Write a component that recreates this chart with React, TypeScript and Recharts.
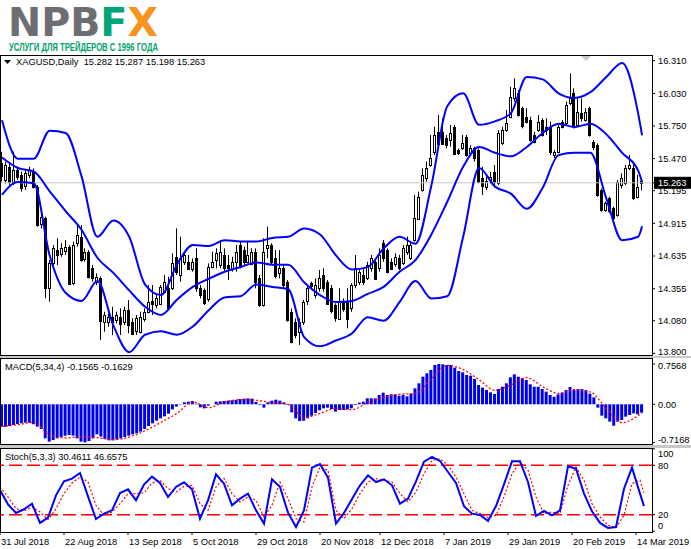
import { ComposedChart, Bar, Line, XAxis, YAxis, ReferenceLine } from 'recharts';

// XAGUSD daily, 31 Jul 2018 .. 15 Mar 2019 (162 bars)
const opens = [
  15.430, 15.287, 15.401, 15.273, 15.373, 15.330, 15.230, 15.330, 15.358, 15.230,
  14.915, 14.958, 14.358, 14.572, 14.686, 14.658, 14.678, 14.715, 14.401, 14.744,
  14.801, 14.615, 14.672, 14.529, 14.415, 14.443, 14.072, 14.072, 14.115, 14.086,
  14.115, 14.072, 14.172, 14.072, 13.986, 13.986, 14.100, 14.157, 14.249, 14.215,
  14.229, 14.329, 14.358, 14.358, 14.629, 14.472, 14.586, 14.586, 14.529, 14.615,
  14.358, 14.343, 14.272, 14.544, 14.601, 14.558, 14.644, 14.558, 14.529, 14.586,
  14.729, 14.686, 14.586, 14.572, 14.672, 14.443, 14.215, 14.701, 14.729, 14.615,
  14.486, 14.529, 14.415, 14.157, 14.072, 13.986, 14.072, 14.243, 14.401, 14.300,
  14.358, 14.472, 14.415, 14.358, 14.215, 14.100, 14.243, 14.243, 14.186, 14.386,
  14.415, 14.472, 14.443, 14.529, 14.586, 14.529, 14.744, 14.686, 14.586, 14.572,
  14.615, 14.572, 14.672, 14.615, 14.772, 14.958, 15.201, 15.301, 15.416, 15.530,
  15.701, 15.701, 15.644, 15.630, 15.744, 15.544, 15.558, 15.659, 15.516, 15.558,
  15.544, 15.301, 15.230, 15.287, 15.358, 15.258, 15.601, 15.716, 15.830, 15.987,
  16.030, 15.902, 15.830, 15.802, 15.673, 15.716, 15.802, 15.744, 15.744, 15.501,
  15.530, 15.787, 15.773, 15.944, 16.030, 15.759, 15.859, 15.802, 15.902, 15.616,
  15.587, 15.201, 15.030, 15.130, 15.044, 14.987, 15.244, 15.258, 15.387, 15.387,
  15.144, 15.282,
];
const highs = [
  15.530, 15.444, 15.430, 15.530, 15.401, 15.358, 15.373, 15.401, 15.387, 15.244,
  15.015, 14.972, 14.601, 14.729, 14.787, 14.744, 14.772, 14.729, 14.758, 14.901,
  14.901, 14.701, 14.686, 14.558, 14.486, 14.458, 14.157, 14.143, 14.200, 14.157,
  14.186, 14.200, 14.258, 14.100, 14.129, 14.157, 14.186, 14.386, 14.386, 14.300,
  14.386, 14.472, 14.458, 14.658, 14.872, 14.801, 14.672, 14.644, 14.615, 14.701,
  14.386, 14.358, 14.572, 14.672, 14.701, 14.772, 14.701, 14.644, 14.629, 14.729,
  14.758, 14.715, 14.758, 14.701, 14.701, 14.472, 14.787, 14.887, 14.744, 14.686,
  14.686, 14.558, 14.429, 14.186, 14.100, 14.100, 14.258, 14.386, 14.415, 14.443,
  14.515, 14.529, 14.429, 14.386, 14.229, 14.358, 14.272, 14.358, 14.401, 14.644,
  14.529, 14.529, 14.586, 14.644, 14.615, 14.701, 14.772, 14.701, 14.615, 14.658,
  14.644, 14.729, 14.801, 14.758, 15.158, 15.187, 15.387, 15.444, 15.673, 15.744,
  15.844, 15.816, 15.673, 15.759, 15.759, 15.558, 15.673, 15.673, 15.587, 15.573,
  15.558, 15.401, 15.315, 15.358, 15.416, 15.716, 15.744, 15.887, 16.087, 16.159,
  16.059, 15.916, 15.902, 15.830, 15.701, 15.844, 15.816, 15.816, 15.787, 15.544,
  15.759, 15.802, 15.959, 16.202, 16.073, 15.987, 15.987, 15.902, 15.916, 15.630,
  15.601, 15.215, 15.101, 15.144, 15.058, 15.287, 15.344, 15.416, 15.501, 15.444,
  15.330, 15.287,
];
const lows = [
  15.273, 15.258, 15.244, 15.244, 15.287, 15.187, 15.201, 15.301, 15.215, 14.887,
  14.872, 14.272, 14.243, 14.544, 14.558, 14.629, 14.644, 14.386, 14.386, 14.715,
  14.586, 14.586, 14.443, 14.415, 14.386, 13.915, 13.986, 14.029, 13.957, 14.057,
  13.957, 14.043, 13.972, 13.957, 13.957, 13.972, 14.072, 14.143, 14.129, 14.186,
  14.215, 14.315, 14.172, 14.343, 14.472, 14.415, 14.558, 14.515, 14.501, 14.329,
  14.272, 14.215, 14.243, 14.529, 14.529, 14.529, 14.501, 14.429, 14.501, 14.501,
  14.529, 14.558, 14.572, 14.558, 14.358, 14.200, 14.200, 14.615, 14.558, 14.443,
  14.443, 14.358, 14.072, 13.886, 13.929, 13.872, 14.043, 14.215, 14.343, 14.272,
  14.329, 14.329, 14.215, 14.143, 14.072, 14.086, 14.157, 14.015, 14.157, 14.358,
  14.386, 14.386, 14.429, 14.501, 14.429, 14.501, 14.586, 14.486, 14.515, 14.544,
  14.515, 14.558, 14.644, 14.601, 14.758, 14.944, 15.187, 15.273, 15.401, 15.501,
  15.558, 15.587, 15.558, 15.573, 15.501, 15.501, 15.544, 15.487, 15.501, 15.444,
  15.258, 15.158, 15.201, 15.258, 15.244, 15.244, 15.587, 15.701, 15.816, 15.959,
  15.830, 15.730, 15.773, 15.616, 15.601, 15.701, 15.659, 15.673, 15.501, 15.473,
  15.516, 15.730, 15.759, 15.930, 15.730, 15.744, 15.787, 15.787, 15.659, 15.544,
  15.144, 15.015, 15.015, 15.001, 14.944, 14.972, 15.215, 15.244, 15.373, 15.115,
  15.130, 15.198,
];
const closes = [
  15.315, 15.416, 15.273, 15.373, 15.315, 15.215, 15.344, 15.373, 15.230, 14.901,
  14.972, 14.358, 14.572, 14.701, 14.644, 14.707, 14.715, 14.401, 14.729, 14.815,
  14.601, 14.672, 14.458, 14.443, 14.458, 14.072, 14.129, 14.115, 14.072, 14.129,
  14.057, 14.172, 14.043, 13.972, 14.100, 14.115, 14.157, 14.243, 14.220, 14.272,
  14.372, 14.415, 14.186, 14.572, 14.501, 14.615, 14.644, 14.529, 14.586, 14.358,
  14.300, 14.229, 14.544, 14.586, 14.658, 14.672, 14.529, 14.529, 14.586, 14.672,
  14.544, 14.586, 14.644, 14.672, 14.415, 14.215, 14.672, 14.729, 14.586, 14.458,
  14.529, 14.386, 14.086, 13.900, 13.957, 14.072, 14.243, 14.358, 14.372, 14.386,
  14.443, 14.358, 14.229, 14.157, 14.100, 14.243, 14.186, 14.100, 14.386, 14.529,
  14.501, 14.415, 14.558, 14.615, 14.443, 14.644, 14.615, 14.501, 14.529, 14.629,
  14.529, 14.701, 14.729, 14.729, 14.958, 15.144, 15.330, 15.387, 15.473, 15.673,
  15.601, 15.601, 15.587, 15.687, 15.516, 15.516, 15.601, 15.501, 15.558, 15.473,
  15.273, 15.230, 15.278, 15.315, 15.273, 15.687, 15.716, 15.773, 16.002, 16.073,
  15.844, 15.744, 15.787, 15.630, 15.616, 15.787, 15.673, 15.716, 15.530, 15.530,
  15.744, 15.744, 15.930, 15.987, 15.744, 15.873, 15.816, 15.873, 15.673, 15.573,
  15.158, 15.030, 15.087, 15.015, 14.958, 15.273, 15.301, 15.387, 15.416, 15.130,
  15.230, 15.263,
];

// Bollinger bands read every 4th bar (last entry = last bar)
const bandUpper = [
  15.80, 15.47, 15.47, 15.71, 15.69, 15.32, 14.80, 14.94, 14.80, 14.39, 14.30,
  14.56, 14.73, 14.72, 14.77, 14.76, 14.76, 14.79, 14.80, 14.87, 14.82, 14.64,
  14.52, 14.54, 14.70, 14.80, 14.74, 15.24, 15.92, 16.03, 15.76, 15.79, 15.86,
  16.17, 16.15, 16.03, 15.99, 16.04, 16.17, 16.29, 15.86, 15.67,
];
const bandMid = [
  15.48, 15.39, 15.36, 15.19, 15.02, 14.86, 14.62, 14.49, 14.34, 14.20, 14.13,
  14.26, 14.37, 14.44, 14.50, 14.54, 14.58, 14.56, 14.56, 14.41, 14.30, 14.24,
  14.25, 14.31, 14.37, 14.50, 14.60, 14.82, 15.10, 15.40, 15.57, 15.52, 15.49,
  15.57, 15.69, 15.77, 15.74, 15.77, 15.68, 15.52, 15.37, 15.27,
];
const bandLower = [
  15.16, 15.27, 15.26, 14.64, 14.32, 14.25, 14.42, 14.04, 13.81, 13.96, 13.99,
  13.96, 14.03, 14.17, 14.28, 14.29, 14.39, 14.37, 14.35, 13.94, 13.86, 13.91,
  13.97, 14.11, 14.08, 14.24, 14.42, 14.27, 14.29, 14.80, 15.39, 15.23, 15.17,
  15.04, 15.22, 15.50, 15.52, 15.52, 15.13, 14.77, 14.80, 14.89,
];

// MACD(5,34,4) histogram, one per bar
const macdHist = [
  -0.420, -0.420, -0.408, -0.389, -0.370, -0.357, -0.345, -0.345, -0.376, -0.420,
  -0.464, -0.640, -0.702, -0.671, -0.640, -0.615, -0.589, -0.577, -0.589, -0.640,
  -0.702, -0.715, -0.690, -0.640, -0.565, -0.608, -0.652, -0.677, -0.677, -0.659,
  -0.640, -0.615, -0.589, -0.565, -0.546, -0.514, -0.464, -0.408, -0.357, -0.307,
  -0.264, -0.226, -0.176, -0.095, -0.044, -0.007, 0.037, 0.049, 0.062, 0.012,
  -0.057, -0.076, -0.026, -0.001, 0.049, 0.056, 0.062, 0.068, 0.075, 0.081,
  0.100, 0.106, 0.112, 0.106, 0.043, -0.013, -0.063, 0.037, 0.068, 0.087,
  0.068, 0.037, -0.013, -0.151, -0.264, -0.314, -0.308, -0.264, -0.214, -0.164,
  -0.113, -0.076, -0.063, -0.088, -0.138, -0.107, -0.107, -0.095, -0.076, -0.013,
  0.031, 0.049, 0.112, 0.112, 0.112, 0.175, 0.219, 0.175, 0.187, 0.187,
  0.162, 0.175, 0.150, 0.200, 0.300, 0.394, 0.519, 0.582, 0.645, 0.739,
  0.757, 0.751, 0.739, 0.739, 0.689, 0.626, 0.601, 0.551, 0.538, 0.476,
  0.363, 0.313, 0.269, 0.225, 0.194, 0.288, 0.331, 0.394, 0.507, 0.563,
  0.519, 0.489, 0.457, 0.375, 0.331, 0.331, 0.288, 0.238, 0.175, 0.143,
  0.187, 0.219, 0.269, 0.325, 0.275, 0.288, 0.288, 0.269, 0.200, 0.131,
  -0.063, -0.214, -0.264, -0.326, -0.402, -0.326, -0.295, -0.232, -0.201, -0.170,
  -0.189, -0.1565,
];
// MACD signal, read every 4th bar
const macdSignal = [
  -0.414, -0.383, -0.339, -0.577, -0.633, -0.608, -0.627, -0.665, -0.615, -0.496,
  -0.339, -0.170, 0.043, -0.063, 0.043, 0.087, 0.075, 0.031, -0.001, -0.251,
  -0.170, -0.076, -0.101, 0.031, 0.131, 0.187, 0.206, 0.476, 0.732, 0.651,
  0.463, 0.263, 0.363, 0.501, 0.331, 0.206, 0.275, 0.231, -0.076, -0.345,
  -0.214, -0.1629,
];

// Stoch(5,3,3), read every 2nd bar
const stochK = [
  49.6, 32.6, 22.1, 26.6, 33.4, 10.0, 16.4, 43.5, 60.5, 63.8,
  70.6, 42.3, 14.8, 21.3, 25.3, 46.4, 50.8, 37.5, 56.5, 66.2,
  58.5, 41.5, 53.7, 59.3, 50.8, 15.2, 37.5, 69.0, 57.7, 31.4,
  39.5, 45.6, 25.3, 9.2, 63.0, 53.7, 22.5, 5.1, 25.3, 77.1,
  81.6, 65.0, 9.2, 22.1, 39.1, 55.7, 67.8, 59.7, 63.0, 55.7,
  33.4, 39.5, 60.5, 84.4, 90.1, 85.2, 71.9, 58.5, 30.2, 21.3,
  19.7, 12.4, 30.6, 56.9, 84.8, 84.8, 59.7, 18.5, 24.5, 19.3,
  25.3, 78.7, 75.9, 45.6, 24.1, 10.0, 3.9, 5.1, 51.6, 77.1,
  45.6, 30.4611,
];
const stochD = [
  53.7, 41.5, 27.4, 24.5, 29.4, 23.3, 14.0, 27.4, 45.6, 58.5,
  65.8, 59.7, 31.4, 19.3, 23.3, 33.4, 45.6, 45.6, 46.4, 58.5,
  61.8, 51.6, 47.6, 54.5, 55.7, 33.4, 25.3, 53.7, 63.8, 45.6,
  35.5, 41.5, 37.5, 17.3, 31.4, 59.7, 39.5, 15.2, 11.2, 53.7,
  77.9, 73.9, 25.3, 15.2, 27.4, 45.6, 59.7, 63.8, 61.8, 59.7,
  45.6, 35.5, 47.6, 69.8, 86.0, 88.0, 80.0, 65.8, 45.6, 25.3,
  21.3, 16.4, 19.3, 41.5, 69.8, 84.0, 73.9, 41.5, 21.3, 23.3,
  21.3, 55.7, 77.9, 61.8, 33.4, 17.3, 7.1, 4.3, 19.3, 57.7,
  62.0, 46.6575,
];

const dateLabels = [
  '31 Jul 2018', '22 Aug 2018', '13 Sep 2018', '5 Oct 2018', '29 Oct 2018', '20 Nov 2018',
  '12 Dec 2018', '7 Jan 2019', '29 Jan 2019', '20 Feb 2019', '14 Mar 2019',
];
const dateTickBars = [0, 16, 32, 48, 64, 80, 95, 111, 127, 143, 159];
const priceTicks = [16.31, 16.03, 15.75, 15.47, 15.195, 14.915, 14.635, 14.355, 14.08, 13.8];
const macdTicks = [0.7568, 0, -0.7168];
const stochTicks = [100, 80, 20, 0];

const FONT = "'Liberation Sans', Arial, sans-serif";
const FS = 9.3;
const BLUE = '#0000ff';
const RED = '#ff0000';

const NBARS = opens.length;
const LAST = NBARS - 1;
const lastClose = closes[LAST];

function spread(values: number[], step: number) {
  const out: (number | null)[] = new Array(NBARS).fill(null);
  values.forEach((v, k) => {
    out[Math.min(k * step, LAST)] = v;
  });
  return out;
}

const upperS = spread(bandUpper, 4);
const midS = spread(bandMid, 4);
const lowerS = spread(bandLower, 4);
const signalS = spread(macdSignal, 4);
const kS = spread(stochK, 2);
const dS = spread(stochD, 2);

// two empty slots on the right, like the terminal's chart shift
const rows = Array.from({ length: NBARS + 2 }, (_, i) =>
  i < NBARS
    ? {
        i,
        o: opens[i],
        h: highs[i],
        l: lows[i],
        c: closes[i],
        range: [lows[i], highs[i]],
        upper: upperS[i],
        mid: midS[i],
        lower: lowerS[i],
        macd: macdHist[i],
        signal: signalS[i],
        k: kS[i],
        d: dS[i],
      }
    : { i }
);

function Candle(props: any) {
  const { x, y, width, height, payload } = props;
  if (!payload || payload.o == null) return null;
  const { o, h, l, c } = payload;
  const top = Math.min(y, y + height);
  const span = Math.abs(height);
  const toY = (p: number) => top + ((h - p) / (h - l || 1)) * span;
  const cx = Math.floor(x + width / 2) + 0.5;
  const bTop = Math.round(toY(Math.max(o, c))) + 0.5;
  const bH = Math.max(1, Math.round(toY(Math.min(o, c)) - toY(Math.max(o, c))));
  return (
    <g>
      <line x1={cx} x2={cx} y1={top} y2={top + span} stroke="#000" strokeWidth={1} />
      <rect x={cx - 1} y={bTop} width={2} height={bH} fill={c >= o ? '#fff' : '#000'} stroke="#000" strokeWidth={1} />
    </g>
  );
}

function PriceTick(props: any) {
  const { x, y, payload } = props;
  const v = payload.value;
  if (v === lastClose) {
    return (
      <g>
        <rect x={x - 4} y={y - 6} width={40} height={12} fill="#000" />
        <text x={x} y={y} dy={3.4} fill="#fff" fontSize={FS} fontFamily={FONT}>
          {v.toFixed(3)}
        </text>
      </g>
    );
  }
  const shift = v === 13.8 ? -1.5 : 0;
  return (
    <text x={x} y={y + shift} dy={3.4} fill="#000" fontSize={FS} fontFamily={FONT}>
      {v.toFixed(3)}
    </text>
  );
}

function MacdTick(props: any) {
  const { x, y, payload } = props;
  const v = payload.value;
  const shift = v > 0 ? 2 : v < 0 ? -3 : 0;
  return (
    <text x={x} y={y + shift} dy={3.4} fill="#000" fontSize={FS} fontFamily={FONT}>
      {v === 0 ? '0.00' : v.toFixed(4)}
    </text>
  );
}

function StochTick(props: any) {
  const { x, y, payload } = props;
  const v = payload.value;
  const shift = v === 100 ? 5 : v === 0 ? -6 : 0;
  return (
    <text x={x} y={y + shift} dy={3.4} fill="#000" fontSize={FS} fontFamily={FONT}>
      {v}
    </text>
  );
}

function DateTick(props: any) {
  const { x, y, payload } = props;
  const label = dateLabels[dateTickBars.indexOf(payload.value)];
  return (
    <g>
      <line x1={x} x2={x} y1={y} y2={y + 3} stroke="#000" />
      <text x={x + 1} y={y + 12.5} fill="#000" fontSize={FS} fontFamily={FONT}>
        {label}
      </text>
    </g>
  );
}

const panelBorder = (top: number, height: number) => ({
  position: 'absolute' as const,
  left: 0,
  top,
  width: 653,
  height,
  border: '1px solid #000',
  boxSizing: 'border-box' as const,
  pointerEvents: 'none' as const,
});

const textStyle = (left: number, top: number) => ({
  position: 'absolute' as const,
  left,
  top,
  fontFamily: FONT,
  fontSize: FS,
  color: '#000',
  whiteSpace: 'pre' as const,
  lineHeight: '11px',
});

export default function App() {
  const margin = { top: 0, right: 0, bottom: 0, left: 0 };
  return (
    <div style={{ position: 'absolute', left: 0, top: 0, width: 691, height: 549, background: '#fff', overflow: 'hidden' }}>
      <svg width={200} height={56} style={{ position: 'absolute', left: 0, top: 0 }}>
        <text x={8} y={35.5} fontFamily="'DejaVu Sans', sans-serif" fontWeight="bold" fontSize={39} textLength={150} lengthAdjust="spacingAndGlyphs">
          <tspan fill="#6d6e71">NPB</tspan>
          <tspan fill="#00a57a">F</tspan>
          <tspan fill="#f7941d">X</tspan>
        </text>
        <text x={9} y={51} fontFamily="'Liberation Sans Narrow', 'Liberation Sans', sans-serif" fontWeight="bold" fontSize={10} fill="#00a06e" textLength={149} lengthAdjust="spacingAndGlyphs">
          УСЛУГИ ДЛЯ ТРЕЙДЕРОВ С 1996 ГОДА
        </text>
      </svg>

      <div style={{ position: 'absolute', left: 0, top: 356, width: 691, height: 2, background: '#c8c8c8' }} />
      <div style={{ position: 'absolute', left: 0, top: 445, width: 691, height: 3, background: '#c8c8c8' }} />

      <div style={{ position: 'absolute', left: 0, top: 55 }}>
        <ComposedChart width={691} height={300} data={rows} margin={margin} style={{ overflow: 'visible' }}>
          <XAxis dataKey="i" type="category" hide />
          <YAxis
            orientation="right"
            width={39}
            domain={[13.786, 16.359]}
            allowDataOverflow
            ticks={[...priceTicks, lastClose]}
            interval={0}
            axisLine={false}
            tickLine={{ stroke: '#000' }}
            tickSize={3}
            tickMargin={3}
            tick={<PriceTick />}
          />
          <ReferenceLine y={lastClose} stroke="#c8c8c8" strokeWidth={1} />
          <Bar dataKey="range" barSize={3} shape={(p: any) => <Candle {...p} />} isAnimationActive={false} />
          <Line dataKey="upper" type="monotone" stroke={BLUE} strokeWidth={2} dot={false} activeDot={false} connectNulls isAnimationActive={false} />
          <Line dataKey="mid" type="monotone" stroke={BLUE} strokeWidth={2} dot={false} activeDot={false} connectNulls isAnimationActive={false} />
          <Line dataKey="lower" type="monotone" stroke={BLUE} strokeWidth={2} dot={false} activeDot={false} connectNulls isAnimationActive={false} />
        </ComposedChart>
      </div>

      <div style={{ position: 'absolute', left: 0, top: 358 }}>
        <ComposedChart width={691} height={86} data={rows} margin={margin}>
          <XAxis dataKey="i" type="category" hide />
          <YAxis
            orientation="right"
            width={39}
            domain={[-0.746, 0.87]}
            allowDataOverflow
            ticks={macdTicks}
            interval={0}
            axisLine={false}
            tickLine={{ stroke: '#000' }}
            tickSize={3}
            tickMargin={3}
            tick={<MacdTick />}
          />
          <Bar dataKey="macd" barSize={3} fill="#0000f0" isAnimationActive={false} />
          <Line dataKey="signal" type="monotone" stroke={RED} strokeWidth={1.3} strokeDasharray="2 2" dot={false} activeDot={false} connectNulls isAnimationActive={false} />
        </ComposedChart>
      </div>

      <div style={{ position: 'absolute', left: 0, top: 448 }}>
        <ComposedChart width={691} height={101} data={rows} margin={margin}>
          <XAxis
            dataKey="i"
            type="category"
            height={17}
            ticks={dateTickBars}
            interval={0}
            axisLine={false}
            tickLine={false}
            tickSize={0}
            tickMargin={0}
            tick={<DateTick />}
          />
          <YAxis
            orientation="right"
            width={39}
            domain={[-1, 101]}
            allowDataOverflow
            ticks={stochTicks}
            interval={0}
            axisLine={false}
            tickLine={{ stroke: '#000' }}
            tickSize={3}
            tickMargin={3}
            tick={<StochTick />}
          />
          <ReferenceLine y={80} stroke={RED} strokeWidth={1.5} strokeDasharray="13 5" />
          <ReferenceLine y={20} stroke={RED} strokeWidth={1.5} strokeDasharray="13 5" />
          <Line dataKey="d" type="linear" stroke={RED} strokeWidth={1.2} strokeDasharray="2 2" dot={false} activeDot={false} connectNulls isAnimationActive={false} />
          <Line dataKey="k" type="linear" stroke={BLUE} strokeWidth={2} dot={false} activeDot={false} connectNulls isAnimationActive={false} />
        </ComposedChart>
      </div>

      <div style={panelBorder(55, 301)} />
      <div style={panelBorder(358, 87)} />
      <div style={panelBorder(448, 85)} />

      <svg width={12} height={8} style={{ position: 'absolute', left: 3, top: 59 }}>
        <polygon points="1,1 8,1 4.5,5" fill="#000" />
      </svg>
      <svg width={12} height={8} style={{ position: 'absolute', left: 580, top: 55 }}>
        <polygon points="1,1 11,1 6,6" fill="#c8c8c8" />
      </svg>
      <div style={textStyle(16, 57)}>XAGUSD,Daily  15.282 15.287 15.198 15.263</div>
      <div style={textStyle(5, 362)}>MACD(5,34,4) -0.1565 -0.1629</div>
      <div style={textStyle(5, 452)}>Stoch(5,3,3) 30.4611 46.6575</div>
    </div>
  );
}
